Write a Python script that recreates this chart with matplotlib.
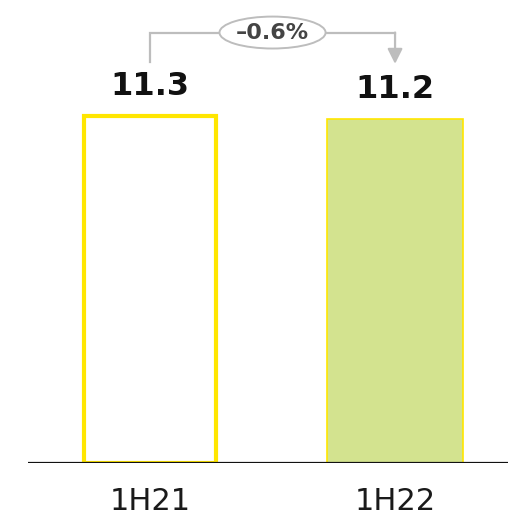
import matplotlib

matplotlib.use("Agg")

import matplotlib.pyplot as plt
from matplotlib.patches import Ellipse

categories = ["1H21", "1H22"]
values = [11.3, 11.2]
change_label = "\u20130.6%"

YELLOW = "#ffe600"
GREEN = "#d3e38f"
GREY = "#bdbdbd"

fig = plt.figure(figsize=(5.08, 5.16), dpi=100)
ax = fig.add_axes([28 / 508, 53 / 516, 480 / 508, 463 / 516])

x = list(range(len(categories)))

# prior period: outline only, current period: filled
ax.bar(x[0], values[0], width=0.54, color="white", edgecolor=YELLOW,
       linewidth=3, zorder=2)
ax.bar(x[1], values[1], width=0.555, color=GREEN, edgecolor=YELLOW,
       linewidth=1.2, zorder=2)

for xi, v in zip(x, values):
    ax.annotate(f"{v:.1f}", (xi, v), xytext=(0, 10), textcoords="offset points",
                ha="center", va="bottom", fontsize=23, fontweight="bold",
                color="#111111")

# bracket from first bar label to second, with the change in a bubble
y_line = 14.02
ax.plot([x[0], x[0], x[1]], [values[0] + 1.75, y_line, y_line],
        color=GREY, linewidth=1.6, solid_joinstyle="miter", zorder=3,
        clip_on=False)
ax.annotate("", xy=(x[1], values[1] + 1.8), xytext=(x[1], y_line),
            arrowprops=dict(arrowstyle="-|>,head_length=0.9,head_width=0.45",
                            color=GREY, linewidth=1.6, shrinkA=0, shrinkB=0),
            zorder=3)
mid = (x[0] + x[1]) / 2
ax.add_patch(Ellipse((mid, y_line), width=0.433, height=1.04,
                     facecolor="white", edgecolor=GREY, linewidth=1.4,
                     zorder=4, clip_on=False))
ax.text(mid, y_line, change_label, ha="center", va="center", fontsize=16,
        fontweight="bold", color="#444444", zorder=5)

ax.axhline(0, color="#111111", linewidth=1.6, zorder=4)

ax.set_xlim(-0.498, 1.461)
ax.set_ylim(0, 15.08)
ax.set_xticks(x)
ax.set_xticklabels(categories, fontsize=22, color="#1a1a1a")
ax.tick_params(axis="x", length=0, pad=17)
ax.set_yticks([])
for side in ["top", "right", "left", "bottom"]:
    ax.spines[side].set_visible(False)

fig.savefig("out.png", dpi=100)
